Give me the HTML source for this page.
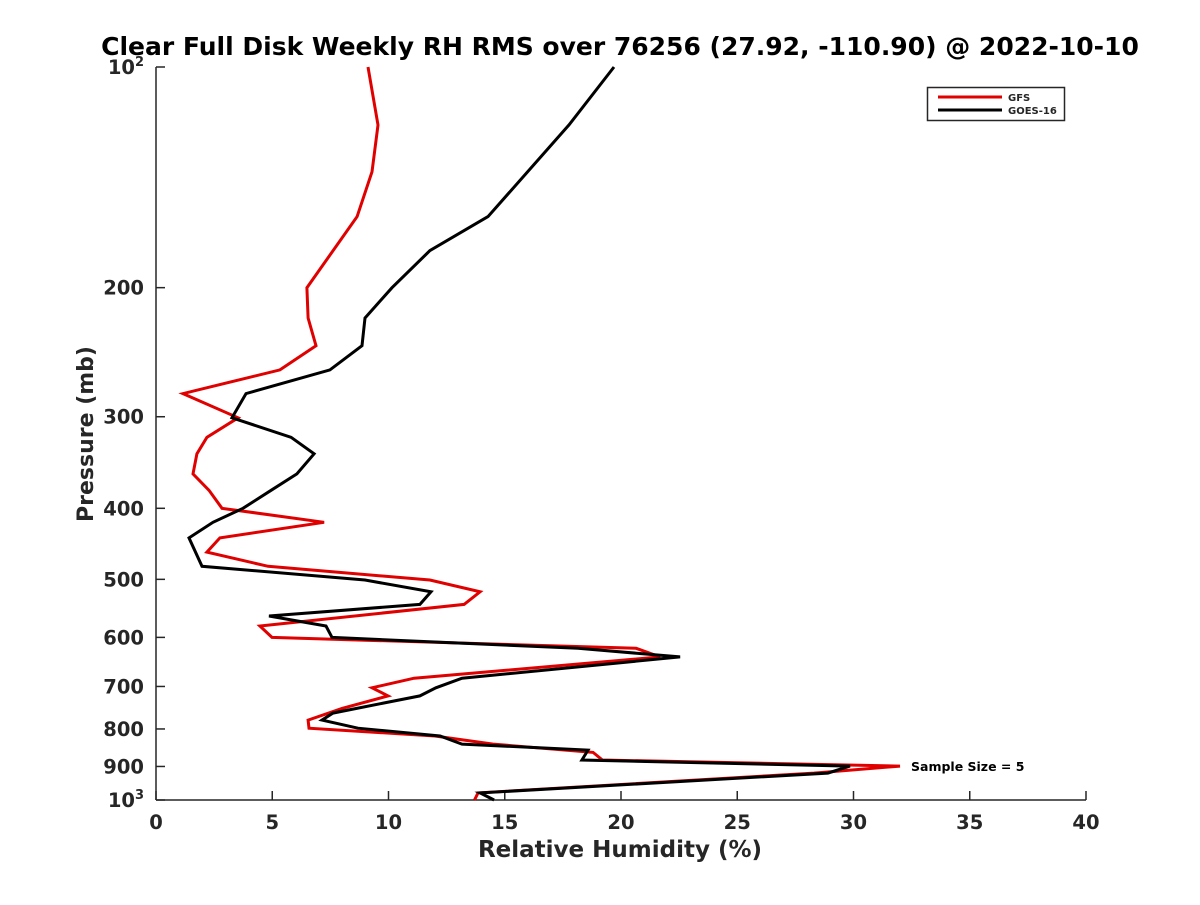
<!DOCTYPE html>
<html><head><meta charset="utf-8"><style>
body{margin:0;background:#fff;}
svg text{font-family:"DejaVu Sans","Liberation Sans",sans-serif;font-weight:bold;fill:#262626;}
</style></head><body>
<svg id="chart" width="1200" height="900" viewBox="0 0 1200 900" xmlns="http://www.w3.org/2000/svg">
<rect width="1200" height="900" fill="#fff"/>
<text x="620" y="55" font-size="25" text-anchor="middle" style="fill:#000">Clear Full Disk Weekly RH RMS over 76256 (27.92, -110.90) @ 2022-10-10</text>
<g id="axes"></g>
<g id="series"></g>
<text x="620" y="857" font-size="23" text-anchor="middle">Relative Humidity (%)</text>
<text transform="translate(93,434) rotate(-90)" font-size="22" text-anchor="middle">Pressure (mb)</text>
<text x="911" y="771" font-size="12.5" style="fill:#000">Sample Size = 5</text>
<g>
<rect x="927.5" y="87.5" width="137" height="33" fill="#fff" stroke="#262626" stroke-width="1.5"/>
<line x1="938" y1="97" x2="1002" y2="97" stroke="#e00000" stroke-width="3"/>
<text x="1008" y="101" font-size="10">GFS</text>
<line x1="938" y1="110" x2="1002" y2="110" stroke="#000" stroke-width="3"/>
<text x="1008" y="114" font-size="10">GOES-16</text>
</g>
</svg>
<script>
const xTicks = [0,5,10,15,20,25,30,35,40];
const yTicks = [100,200,300,400,500,600,700,800,900,1000];
const yTickLabels = ["10^2","200","300","400","500","600","700","800","900","10^3"];
const gfsP = [100,120,139,160,200,220,240,259,279,301,320,337,359,378,400,418,439,459,480,501,520,541,579,600,621,638,682,703,721,750,778,798,818,839,861,882,899,919,978,1000];
const gfsRH = [9.12,9.55,9.29,8.65,6.49,6.54,6.88,5.33,1.16,3.53,2.19,1.76,1.59,2.28,2.84,7.23,2.75,2.19,4.82,11.78,13.94,13.25,4.47,4.99,20.65,21.68,11.1,9.29,9.98,8.0,6.54,6.58,12.0,14.5,18.8,19.2,32.0,28.3,13.85,13.7];
const goesP = [100,120,160,178,200,220,240,259,279,301,320,337,359,378,400,418,439,480,501,520,541,561,579,600,621,638,682,703,721,761,778,798,818,839,855,882,899,919,978,1000];
const goesRH = [19.7,17.76,14.28,11.78,10.15,8.99,8.86,7.48,3.87,3.27,5.81,6.8,6.06,4.95,3.74,2.45,1.42,1.98,8.99,11.83,11.35,4.86,7.31,7.57,18.15,22.54,13.16,12.04,11.35,7.61,7.14,8.69,12.22,13.16,18.58,18.32,29.85,28.9,13.94,14.54];

const L=156,R=1086,T=67,B=800;
const xs=v=>L+(v-0)/(40-0)*(R-L);
const ys=p=>T+(Math.log10(p)-2)/(3-2)*(B-T);
const NS="http://www.w3.org/2000/svg";
const axes=document.getElementById('axes');
const series=document.getElementById('series');
function mk(tag,attrs,parent){const e=document.createElementNS(NS,tag);for(const k in attrs)e.setAttribute(k,attrs[k]);parent.appendChild(e);return e;}

let e=mk('line',{x1:L,y1:T,x2:L,y2:B,stroke:'#262626','stroke-width':1.5},axes);


e=mk('line',{x1:L,y1:B,x2:R,y2:B,stroke:'#262626','stroke-width':1.5},axes);



xTicks.forEach(v=>{
  const x=xs(v);
  const t=mk('line',{x1:x,y1:B,x2:x,y2:B-9,stroke:'#262626','stroke-width':1.5},axes);
  
  
  const l=mk('text',{x:x,y:B+29,'font-size':19.5,'text-anchor':'middle'},axes);
  l.textContent=String(v);
  
  
});
yTicks.forEach((p,i)=>{
  const y=ys(p);
  const t=mk('line',{x1:L,y1:y,x2:L+9,y2:y,stroke:'#262626','stroke-width':1.5},axes);
  
  
  const lab=yTickLabels[i];
  const l=mk('text',{x:L-12,y:y+7,'font-size':19.5,'text-anchor':'end'},axes);
  if(lab.indexOf('^')>=0){
    const parts=lab.split('^');
    l.textContent=parts[0];
    const s=mk('tspan',{'font-size':13,dy:-8},l);
    s.textContent=parts[1];
  } else l.textContent=lab;
  
  
});

function drawLine(P,RH,color,name){
  const d=P.map((p,i)=>(i?'L':'M')+xs(RH[i]).toFixed(1)+','+ys(p).toFixed(1)).join(' ');
  const pth=mk('path',{d:d,fill:'none',stroke:color,'stroke-width':3,'stroke-linejoin':'miter'},series);
  
  
}
drawLine(gfsP,gfsRH,'#e00000','gfs-line');
drawLine(goesP,goesRH,'#000000','goes16-line');
</script>
</body></html>
